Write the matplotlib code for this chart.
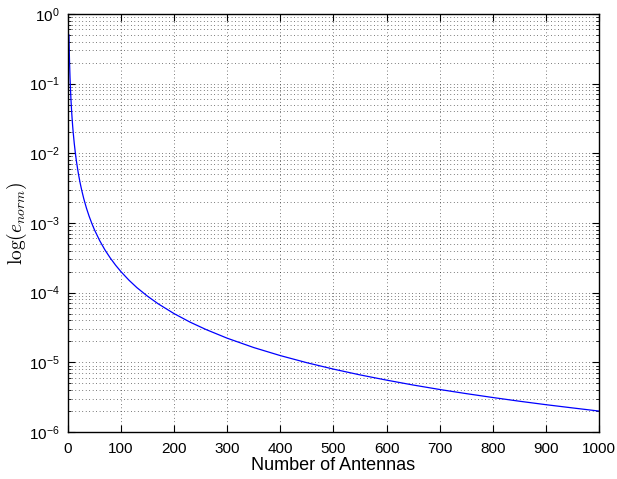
import matplotlib
matplotlib.use('Agg')
import matplotlib.pyplot as plt
from matplotlib.ticker import LogLocator, NullFormatter

# values
antennas = [2, 3, 4, 5, 6, 7, 8, 9, 10, 12, 14, 16, 18, 20, 23, 26, 30, 35,
            40, 45, 50, 60, 70, 80, 90, 100, 115, 130, 150, 170, 200, 230,
            260, 300, 350, 400, 450, 500, 550, 600, 650, 700, 750, 800, 850,
            900, 950, 1000]
e_norm = [0.5, 0.222, 0.125, 0.08, 0.0556, 0.0408, 0.0313, 0.0247, 0.02,
          0.0139, 0.0102, 0.0078, 0.0062, 0.005, 0.00378, 0.00296, 0.00222,
          0.00163, 0.00125, 0.00099, 0.0008, 0.000556, 0.000408, 0.000313,
          0.000247, 0.0002, 0.000151, 0.000118, 8.89e-5, 6.92e-5, 5e-5,
          3.78e-5, 2.96e-5, 2.22e-5, 1.63e-5, 1.25e-5, 9.88e-6, 8e-6,
          6.61e-6, 5.56e-6, 4.73e-6, 4.08e-6, 3.56e-6, 3.13e-6, 2.77e-6,
          2.47e-6, 2.22e-6, 2e-6]
x_ticks = [0, 100, 200, 300, 400, 500, 600, 700, 800, 900, 1000]

plt.rcParams['font.family'] = ['Liberation Sans', 'DejaVu Sans']
plt.rcParams['mathtext.fontset'] = 'cm'

fig = plt.figure(figsize=(6.17, 4.79), dpi=100)
ax = fig.add_axes([0.110, 0.098, 0.861, 0.873])

ax.semilogy(antennas, e_norm, color='#0000ff', lw=0.9)

ax.set_xlim(0, 1000)
ax.set_ylim(1e-6, 1)
ax.set_xticks(x_ticks)
ax.yaxis.set_major_locator(LogLocator(base=10, numticks=10))
ax.yaxis.set_minor_locator(LogLocator(base=10, subs=range(2, 10), numticks=10))
ax.yaxis.set_minor_formatter(NullFormatter())

ax.tick_params(which='both', direction='in', top=True, right=True, labelsize=11)
ax.tick_params(which='major', length=5, width=0.8)
ax.tick_params(which='minor', length=2.5, width=0.6)
ax.tick_params(axis='x', which='major', pad=7)
ax.tick_params(axis='y', which='major', pad=6)

ax.grid(True, which='major', axis='x', color='k', linestyle=(0, (1, 4)), lw=0.5)
ax.grid(True, which='both', axis='y', color='k', linestyle=(0, (1, 4)), lw=0.5)

for s in ax.spines.values():
    s.set_linewidth(1.0)

ax.set_xlabel('Number of Antennas', fontsize=13, labelpad=1)
ax.set_ylabel(r'$\log(e_{norm})$', fontsize=14)
ax.yaxis.set_label_coords(-0.074, 0.5)

fig.savefig('out.png', dpi=100)
